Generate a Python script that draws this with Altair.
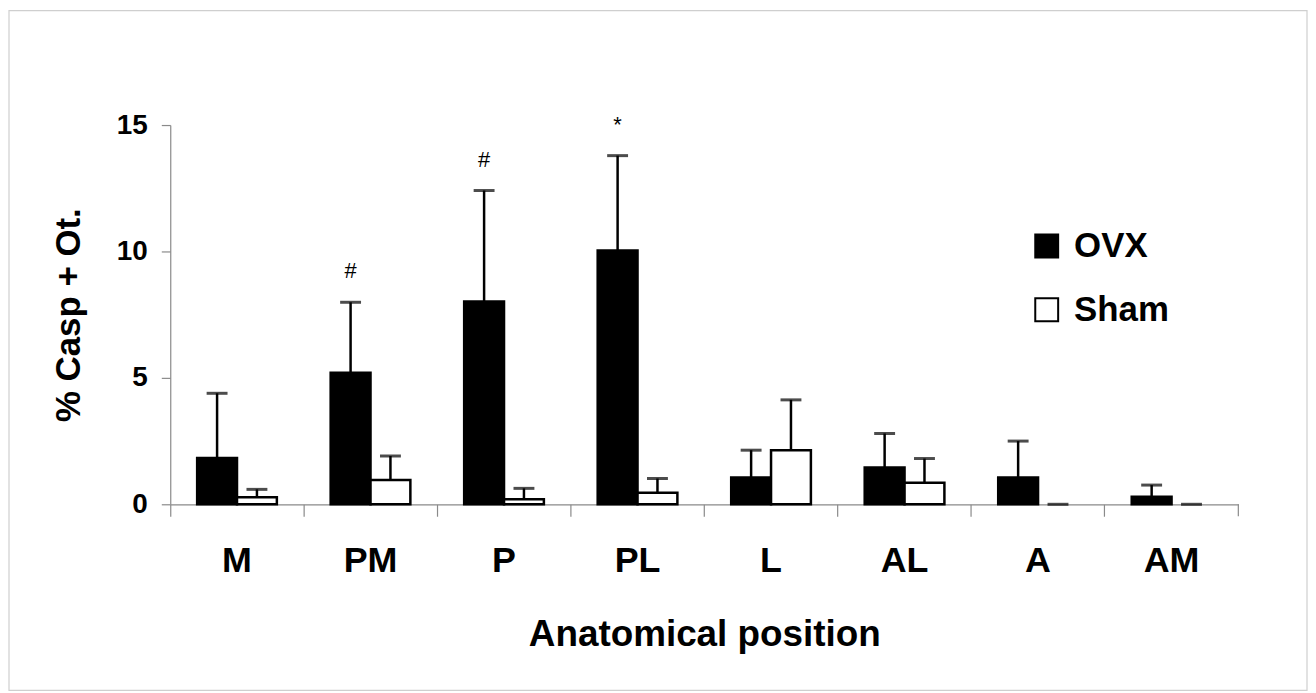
import altair as alt
import pandas as pd

# ---- data ----
categories = ["M", "PM", "P", "PL", "L", "AL", "A", "AM"]
groups = ["OVX", "Sham"]
ovx_mean = [1.83, 5.20, 8.02, 10.04, 1.06, 1.46, 1.06, 0.30]
ovx_sd = [2.56, 2.79, 4.39, 3.75, 1.08, 1.34, 1.44, 0.46]
sham_mean = [0.28, 0.96, 0.20, 0.46, 2.14, 0.85, 0.00, 0.00]
sham_sd = [0.31, 0.95, 0.43, 0.56, 1.99, 0.96, 0.00, 0.00]
ann_cats = ["PM", "P", "PL"]
ann_marks = ["#", "#", "*"]
y_ticks = [0, 5, 10, 15]

# ---- layout ----
W = 1073
H = 381
FONT = "Liberation Sans"
GRAY = "#8a8a8a"

rows = []
for i, c in enumerate(categories):
    rows.append(dict(category=c, group="OVX", mean=ovx_mean[i], sd=ovx_sd[i]))
    rows.append(dict(category=c, group="Sham", mean=sham_mean[i], sd=sham_sd[i]))
df = pd.DataFrame(rows)
df["top"] = df["mean"] + df["sd"]

ann = pd.DataFrame(dict(
    category=ann_cats,
    group=["OVX"] * len(ann_cats),
    label=ann_marks,
    top=[ovx_mean[categories.index(c)] + ovx_sd[categories.index(c)] for c in ann_cats],
))

x_enc = alt.X(
    "category:N", sort=categories,
    scale=alt.Scale(paddingInner=0, paddingOuter=0),
    title="Anatomical position",
    axis=alt.Axis(
        bandPosition=0,
        tickSize=12, tickColor=GRAY, domainColor=GRAY, tickWidth=1.2, domainWidth=1.2,
        labelFontSize=36, labelFontWeight="bold", labelColor="black", labelFont=FONT,
        labelPadding=28, labelAngle=0,
        titleFontSize=37, titleFontWeight="bold", titleColor="black", titleFont=FONT,
        titlePadding=38,
    ),
)
xoff_enc = alt.XOffset(
    "group:N", sort=groups,
    scale=alt.Scale(domain=groups, paddingInner=0, paddingOuter=0.675),
)
y_scale = alt.Scale(domain=[0, 15], nice=False)
y_enc = alt.Y(
    "mean:Q", scale=y_scale, title="% Casp + Ot.",
    axis=alt.Axis(
        values=y_ticks, grid=False, tickSize=9, tickColor=GRAY, domainColor=GRAY,
        tickWidth=1.2, domainWidth=1.2,
        labelFontSize=28, labelFontWeight="bold", labelColor="black", labelFont=FONT,
        labelPadding=14,
        titleFontSize=35, titleFontWeight="bold", titleColor="black", titleFont=FONT,
        titlePadding=30,
    ),
)

bars = alt.Chart(df).mark_bar(stroke="black").encode(
    x=x_enc,
    xOffset=xoff_enc,
    y=y_enc,
    fill=alt.Fill(
        "group:N", sort=groups,
        scale=alt.Scale(domain=groups, range=["black", "white"]),
        legend=alt.Legend(
            orient="none", legendX=863, legendY=104, title=None,
            symbolType="square", symbolSize=529, symbolStrokeColor="black",
            symbolStrokeWidth=2, symbolOpacity=1,
            labelFontSize=35, labelFontWeight="bold", labelColor="black", labelFont=FONT,
            labelOffset=10, rowPadding=28, padding=0,
        ),
    ),
    strokeWidth=alt.condition(alt.datum.mean > 0, alt.value(2.5), alt.value(0)),
)

stems = alt.Chart(df).mark_rule(color="black", strokeWidth=2.5).encode(
    x=x_enc, xOffset=xoff_enc, y=alt.Y("mean:Q", scale=y_scale), y2="top:Q"
)

caps = alt.Chart(df).mark_tick(color="black", thickness=3, size=21).encode(
    x=x_enc, xOffset=xoff_enc, y=alt.Y("top:Q", scale=y_scale)
)

labels = alt.Chart(ann).mark_text(
    font=FONT, fontSize=22, color="black", baseline="middle", dy=-31
).encode(
    x=x_enc, xOffset=xoff_enc, y=alt.Y("top:Q", scale=y_scale), text="label:N"
)

one = pd.DataFrame({"k": [1]})
end_tick = alt.Chart(one).mark_rule(color=GRAY, strokeWidth=1.2).encode(
    x=alt.value(W), y=alt.value(H), y2=alt.value(H + 12)
)
frame = alt.Chart(one).mark_rect(
    fill="white", fillOpacity=0, stroke="#cfcfcf", strokeWidth=1.2
).encode(
    x=alt.value(-162), x2=alt.value(1142), y=alt.value(-115), y2=alt.value(568)
)

chart = alt.layer(frame, bars, stems, caps, labels, end_tick).properties(
    width=W, height=H, padding=0, background="white",
    view=alt.ViewBackground(stroke="transparent", strokeWidth=0),
).configure_view(stroke="transparent", strokeWidth=0).configure(font=FONT)

chart.save("out.html", embed_options={"renderer": "svg", "actions": False})
